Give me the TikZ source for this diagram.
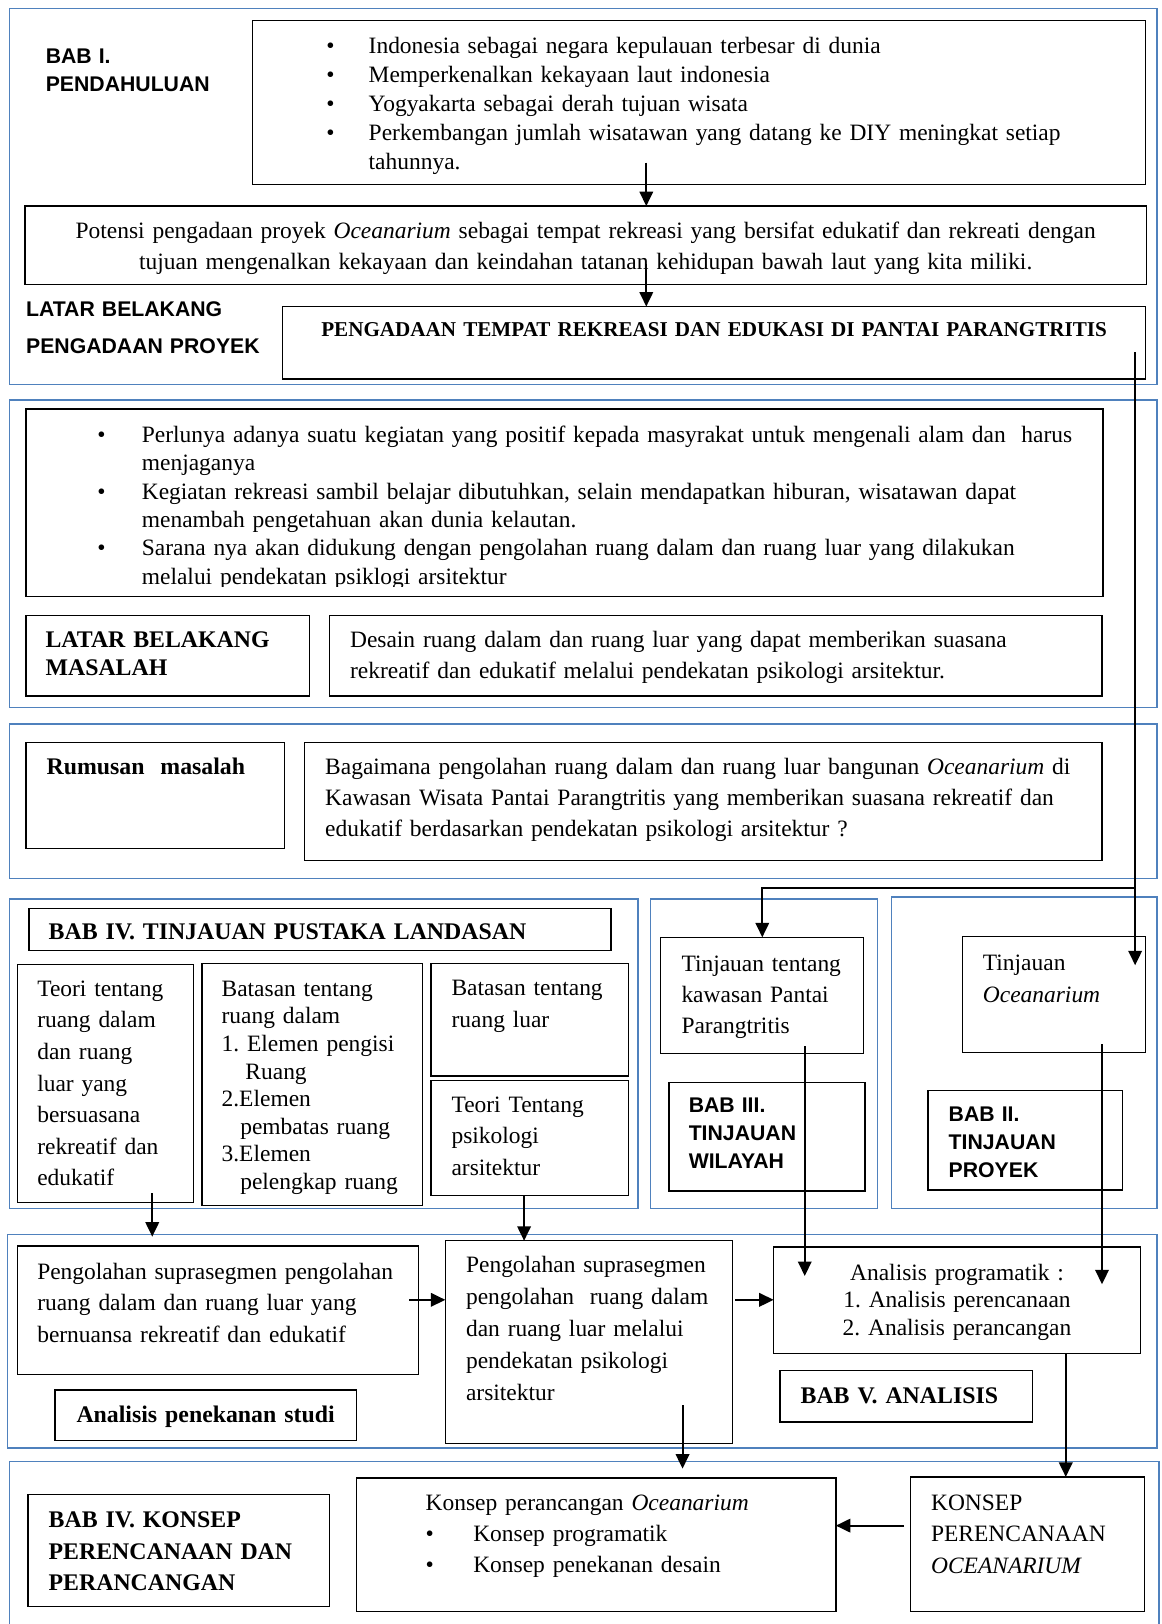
\documentclass[tikz,border=0pt]{standalone}
\usepackage{fontspec}
\setmainfont{Liberation Serif}
\setsansfont{Liberation Sans}
\usepackage{tikz}
\usetikzlibrary{arrows.meta}

\definecolor{frameblue}{RGB}{79,129,189}
\newcommand{\bult}[1][41pt]{\makebox[#1][l]{\textbullet}}
\newcommand{\bultgap}[1][41pt]{\hspace*{#1}}
\frenchspacing

\begin{document}
\begin{tikzpicture}[x = 1pt, y = -1pt,
    blueframe/.style = {draw = frameblue, line width = 1.4pt},
    box/.style = {draw, line width = 1.3pt, anchor = north west, outer sep = 0pt,
        inner sep = 0pt, align = left, font = \fontsize{22.65}{30.5}\selectfont},
    pad/.style = {execute at begin node = {\leftskip = #1\relax}},
    lbl/.style = {anchor = north west, inner sep = 0pt, text width = 260pt,
        text height = 22pt, align = left,
        font = \sffamily\bfseries\fontsize{20.5}{#1}\selectfont},
    conn/.style = {-{Triangle[length = 14pt, width = 13pt]}, line width = 2pt}]
    \fill[white] (0, 0) rectangle (1121, 1568);
    \useasboundingbox (0, 0) rectangle (1121, 1568);

    %% BAB I
    \draw[blueframe] (9, 8) rectangle (1117, 371);
    \node (bab1) [lbl = 27] at (44, 39) {BAB I.\\PENDAHULUAN};
    \node (latar) [lbl = 36] at (25, 283) {LATAR BELAKANG\\PENGADAAN PROYEK};

    \node (isu) [box, pad = 71pt, text width = 862pt, text height = 32pt, text depth = 126pt,
        font = \fontsize{22.65}{27.8}\selectfont] at (244, 20)
        {\bult Indonesia sebagai negara kepulauan terbesar di dunia\\
         \bult Memperkenalkan kekayaan laut indonesia\\
         \bult Yogyakarta sebagai derah tujuan wisata\\
         \bult Perkembangan jumlah wisatawan yang datang ke DIY meningkat setiap\\
         \bultgap tahunnya.};
    \node (potensi) [box, align = center, text width = 1083pt, text height = 31pt,
        text depth = 45pt, font = \fontsize{22.65}{30}\selectfont] at (24, 199)
        {Potensi pengadaan proyek \textit{Oceanarium} sebagai tempat rekreasi yang bersifat edukatif dan rekreati dengan\\
         tujuan mengenalkan kekayaan dan keindahan tatanan kehidupan bawah laut yang kita miliki.};
    \node (judul) [box, align = center, text width = 833pt, text height = 29pt, text depth = 41pt,
        font = \bfseries\fontsize{20.4}{24}\selectfont] at (273, 296)
        {PENGADAAN TEMPAT REKREASI DAN EDUKASI DI PANTAI PARANGTRITIS};

    \coordinate (a1) at (624, 157);
    \draw[conn] (a1) -- (a1 |- potensi.north);
    \coordinate (a2) at (624, 255);
    \draw[conn] (a2) -- (a2 |- judul.north);

    %% latar belakang masalah
    \draw[blueframe] (9, 386) rectangle (1117, 683);
    \begin{scope}
        \clip (25, 395) rectangle (1065, 566);
        \node (alasan) [box, draw = none, pad = 69pt, text width = 1040pt, text height = 32pt,
            text depth = 149pt, font = \fontsize{22.65}{27.4}\selectfont] at (25, 395)
            {\bult[43pt]Perlunya adanya suatu kegiatan yang positif kepada masyrakat untuk mengenali alam dan\ \ harus\\
             \bultgap[43pt]menjaganya\\
             \bult[43pt]Kegiatan rekreasi sambil belajar dibutuhkan, selain mendapatkan hiburan, wisatawan dapat\\
             \bultgap[43pt]menambah pengetahuan akan dunia kelautan.\\
             \bult[43pt]Sarana nya akan didukung dengan pengolahan ruang dalam dan ruang luar yang dilakukan\\
             \bultgap[43pt]melalui pendekatan psiklogi arsitektur};
    \end{scope}
    \draw[line width = 1.3pt] (alasan.north west) rectangle (alasan.south east);

    \node (lbm) [box, pad = 19pt, text width = 274pt, text height = 31pt, text depth = 47pt,
        font = \bfseries\fontsize{23}{27}\selectfont] at (25, 594) {LATAR BELAKANG\\MASALAH};
    \node (desain) [box, pad = 20pt, text width = 746pt, text height = 31pt, text depth = 47pt,
        font = \fontsize{22.65}{30}\selectfont] at (318, 594)
        {Desain ruang dalam dan ruang luar yang dapat memberikan suasana\\
         rekreatif dan edukatif melalui pendekatan psikologi arsitektur.};

    %% rumusan masalah
    \draw[blueframe] (9, 699) rectangle (1117, 848);
    \node (rumusan) [box, pad = 20pt, text width = 250pt, text height = 31pt, text depth = 71pt,
        font = \bfseries\fontsize{23}{30}\selectfont] at (25, 717) {Rumusan\ \ masalah};
    \node (tanya) [box, pad = 20pt, text width = 770pt, text height = 31pt, text depth = 83pt,
        font = \fontsize{22.65}{30}\selectfont] at (294, 717)
        {Bagaimana pengolahan ruang dalam dan ruang luar bangunan \textit{Oceanarium} di\\
         Kawasan Wisata Pantai Parangtritis yang memberikan suasana rekreatif dan\\
         edukatif berdasarkan pendekatan psikologi arsitektur ?};

    %% tinjauan
    \draw[blueframe] (9, 868) rectangle (616, 1167);
    \draw[blueframe] (628, 868) rectangle (847, 1167);
    \draw[blueframe] (861, 866) rectangle (1117, 1167);
    \node (bab4) [box, pad = 19pt, text width = 562pt, text height = 30pt, text depth = 11pt,
        font = \bfseries\fontsize{23}{27}\selectfont] at (28, 877) {BAB IV. TINJAUAN PUSTAKA LANDASAN};
    \node (teori) [box, pad = 19pt, text width = 170pt, text height = 31pt, text depth = 199pt]
        at (17, 931)
        {Teori tentang\\ruang dalam\\dan ruang\\luar yang\\bersuasana\\rekreatif dan\\edukatif};
    \node (bdalam) [box, pad = 19pt, text width = 213pt, text height = 32pt, text depth = 202pt,
        font = \fontsize{22.65}{26.6}\selectfont] at (195, 930)
        {Batasan tentang\\ruang dalam\\1. Elemen pengisi\\\hspace*{23pt}Ruang\\
         2.Elemen\\\hspace*{18pt}pembatas ruang\\3.Elemen\\\hspace*{18pt}pelengkap ruang};
    \node (bluar) [box, pad = 20pt, text width = 191pt, text height = 31pt, text depth = 78pt,
        font = \fontsize{22.65}{31}\selectfont] at (416, 930) {Batasan tentang\\ruang luar};
    \node (psi) [box, pad = 20pt, text width = 191pt, text height = 31pt, text depth = 80pt]
        at (416, 1043) {Teori Tentang\\psikologi\\arsitektur};
    \node (kawasan) [box, pad = 20pt, text width = 196pt, text height = 33pt, text depth = 79pt,
        font = \fontsize{22.65}{30}\selectfont] at (638, 905)
        {Tinjauan tentang\\kawasan Pantai\\Parangtritis};
    \node (bab3) [box, pad = 19pt, text width = 189pt, text height = 29pt, text depth = 76pt,
        font = \sffamily\bfseries\fontsize{20.5}{27}\selectfont] at (646, 1045)
        {BAB III.\\TINJAUAN\\WILAYAH};
    \node (ocean) [box, pad = 20pt, text width = 177pt, text height = 33pt, text depth = 79pt,
        font = \fontsize{22.65}{31}\selectfont] at (929, 904) {Tinjauan\\\textit{Oceanarium}};
    \node (bab2) [box, pad = 20pt, text width = 188pt, text height = 30pt, text depth = 66pt,
        font = \sffamily\bfseries\fontsize{20.5}{27}\selectfont] at (896, 1053)
        {BAB II.\\TINJAUAN\\PROYEK};

    \coordinate (a3) at (1096, 340);
    \coordinate (a3e) at (1096, 932);
    \draw[conn] (a3) -- (a3e);
    \coordinate (a3b) at (1096, 857);
    \draw[conn] (a3b) -| (kawasan.north);

    %% analisis
    \draw[blueframe] (7, 1192) rectangle (1117, 1398);
    \node (olah1) [box, pad = 19pt, text width = 387pt, text height = 32pt, text depth = 92pt]
        at (17, 1203)
        {Pengolahan suprasegmen pengolahan\\ruang dalam dan ruang luar yang\\
         bernuansa rekreatif dan edukatif};
    \node (studi) [box, align = center, text width = 291pt, text height = 31pt, text depth = 18pt,
        font = \bfseries\fontsize{23}{27}\selectfont] at (53, 1342) {Analisis penekanan studi};
    \node (olah2) [box, pad = 20pt, text width = 277pt, text height = 31pt, text depth = 165pt,
        font = \fontsize{22.65}{30.8}\selectfont] at (430, 1198)
        {Pengolahan suprasegmen\\pengolahan\ \ ruang dalam\\dan ruang luar melalui\\
         pendekatan psikologi\\arsitektur};
    \node (prog) [box, align = center, text width = 354pt, text height = 32pt, text depth = 71pt,
        font = \fontsize{22.65}{26.5}\selectfont] at (747, 1204)
        {Analisis programatik :\\1. Analisis perencanaan\\2. Analisis perancangan};
    \node (bab5) [box, pad = 20pt, text width = 244pt, text height = 32pt, text depth = 18pt,
        font = \bfseries\fontsize{23}{27}\selectfont] at (753, 1323) {BAB V. ANALISIS};

    \coordinate (a4) at (147, 1152);
    \coordinate (a4e) at (147, 1194);
    \draw[conn] (a4) -- (a4e);
    \coordinate (a5) at (506, 1154);
    \draw[conn] (a5) -- (a5 |- olah2.north);
    \coordinate (a6) at (395, 1255);
    \draw[conn] (a6) -- (a6 -| olah2.west);
    \coordinate (a7) at (710, 1255);
    \draw[conn] (a7) -- (a7 -| prog.west);
    \coordinate (a8) at (777, 1010);
    \coordinate (a8e) at (777, 1232);
    \draw[conn] (a8) -- (a8e);
    \coordinate (a9) at (1064, 1008);
    \coordinate (a9e) at (1064, 1240);
    \draw[conn] (a9) -- (a9e);

    %% konsep
    \draw[blueframe] (9, 1580) -- (9, 1411) -- (1119, 1411) -- (1119, 1580);
    \node (bab4k) [box, pad = 20pt, text width = 291pt, text height = 32pt, text depth = 76pt,
        font = \bfseries\fontsize{23}{30.5}\selectfont] at (27, 1443)
        {BAB IV. KONSEP\\PERENCANAAN DAN\\PERANCANGAN};
    \node (kons) [box, pad = 67pt, text width = 463pt, text height = 31pt, text depth = 98pt,
        font = \fontsize{22.65}{30}\selectfont] at (344, 1427)
        {Konsep perancangan \textit{Oceanarium}\\\bult[46pt]Konsep programatik\\
         \bult[46pt]Konsep penekanan desain};
    \node (kper) [box, pad = 20pt, text width = 226pt, text height = 32pt, text depth = 98pt]
        at (879, 1426) {KONSEP\\PERENCANAAN\\\textit{OCEANARIUM}};

    \coordinate (a10) at (659, 1357);
    \coordinate (a10e) at (659, 1418);
    \draw[conn] (a10) -- (a10e);
    \coordinate (a11) at (1029, 1307);
    \draw[conn] (a11) -- (a11 |- kper.north);
    \coordinate (a12) at (873, 1473);
    \draw[conn] (a12) -- (a12 -| kons.east);
\end{tikzpicture}
\end{document}
